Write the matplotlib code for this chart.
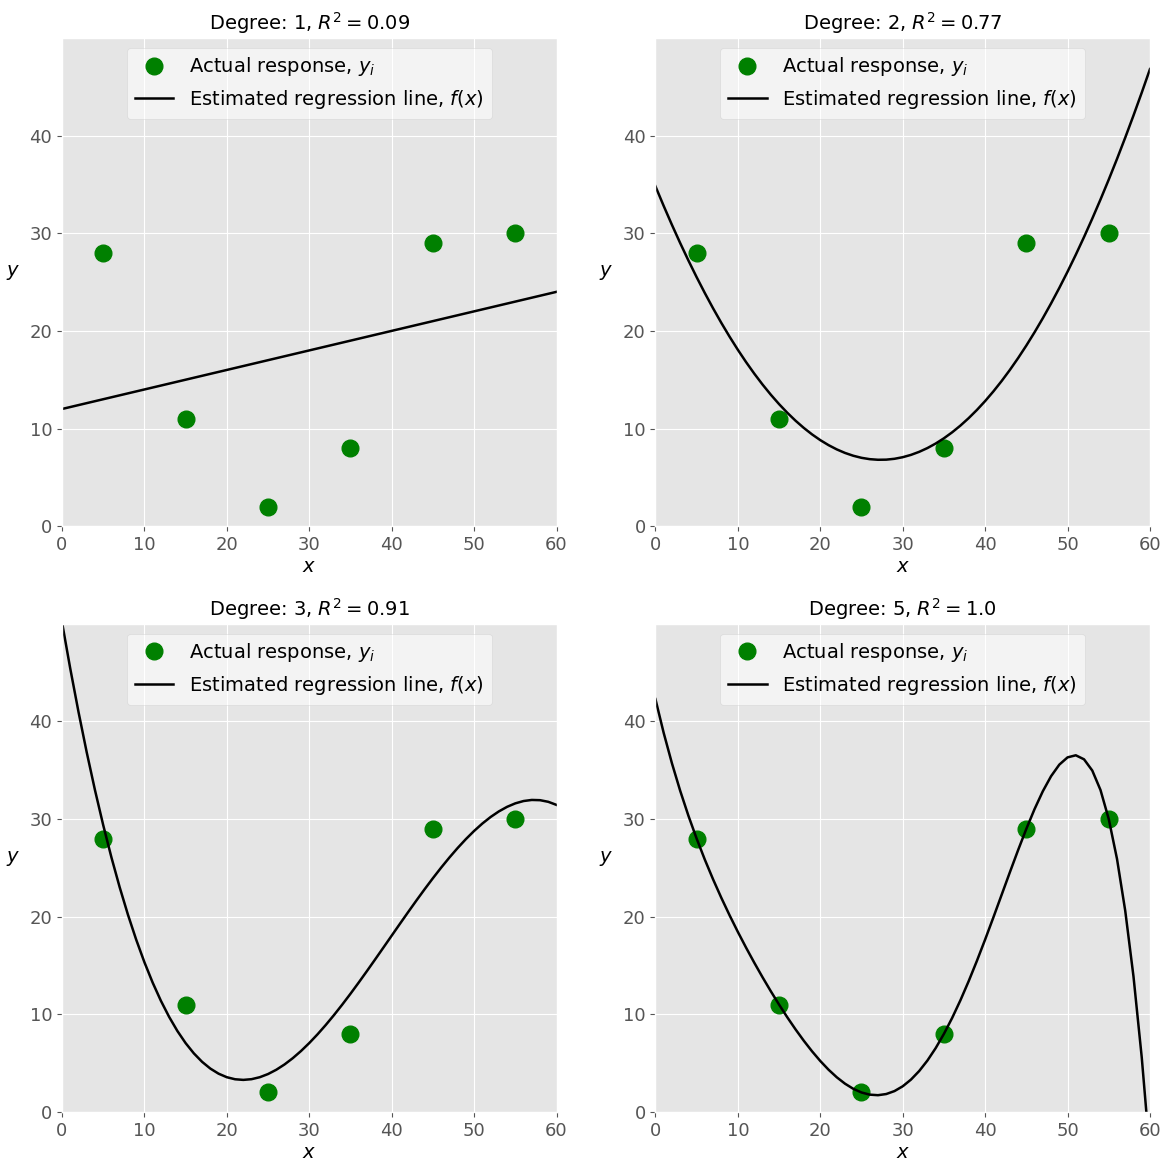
import numpy as np
import matplotlib
matplotlib.use("Agg")
import matplotlib.pyplot as plt

plt.style.use('ggplot')

x = np.array([5, 15, 25, 35, 45, 55])
y = np.array([28, 11, 2, 8, 29, 30])
degrees = [1, 2, 3, 5]

x_grid = np.arange(0, 61, 1.0)

fig, axes = plt.subplots(2, 2, figsize=(11.63, 11.61), dpi=100)
plt.subplots_adjust(left=0.0533, right=0.9888, top=0.9673, bottom=0.0422,
                    wspace=0.2, hspace=0.2)

for ax, deg in zip(axes.flat, degrees):
    coefs = np.polyfit(x, y, deg)
    y_fit = np.polyval(coefs, x)
    r2 = 1 - np.sum((y - y_fit) ** 2) / np.sum((y - y.mean()) ** 2)
    ax.plot(x, y, 'o', color='green', markersize=12, label='Actual response, $y_i$')
    ax.plot(x_grid, np.polyval(coefs, x_grid), color='black', lw=1.8,
            label='Estimated regression line, $f(x)$')
    ax.set_xlim(0, 60)
    ax.set_ylim(0, 50)
    ax.set_yticks([0, 10, 20, 30, 40])
    ax.set_xticks([0, 10, 20, 30, 40, 50, 60])
    ax.tick_params(labelsize=13, colors='#555555')
    ax.set_xlabel('$x$', fontsize=14, color='black', labelpad=2)
    ax.set_ylabel('$y$', fontsize=14, color='black', rotation=0, labelpad=12)
    ax.set_title(f'Degree: {deg}, $R^2 = {round(r2, 2)}$', fontsize=14, pad=6)
    leg = ax.legend(loc='upper center', fontsize=14, facecolor='white',
                    framealpha=0.55, edgecolor='#cccccc')

plt.savefig('out.png', dpi=100)
